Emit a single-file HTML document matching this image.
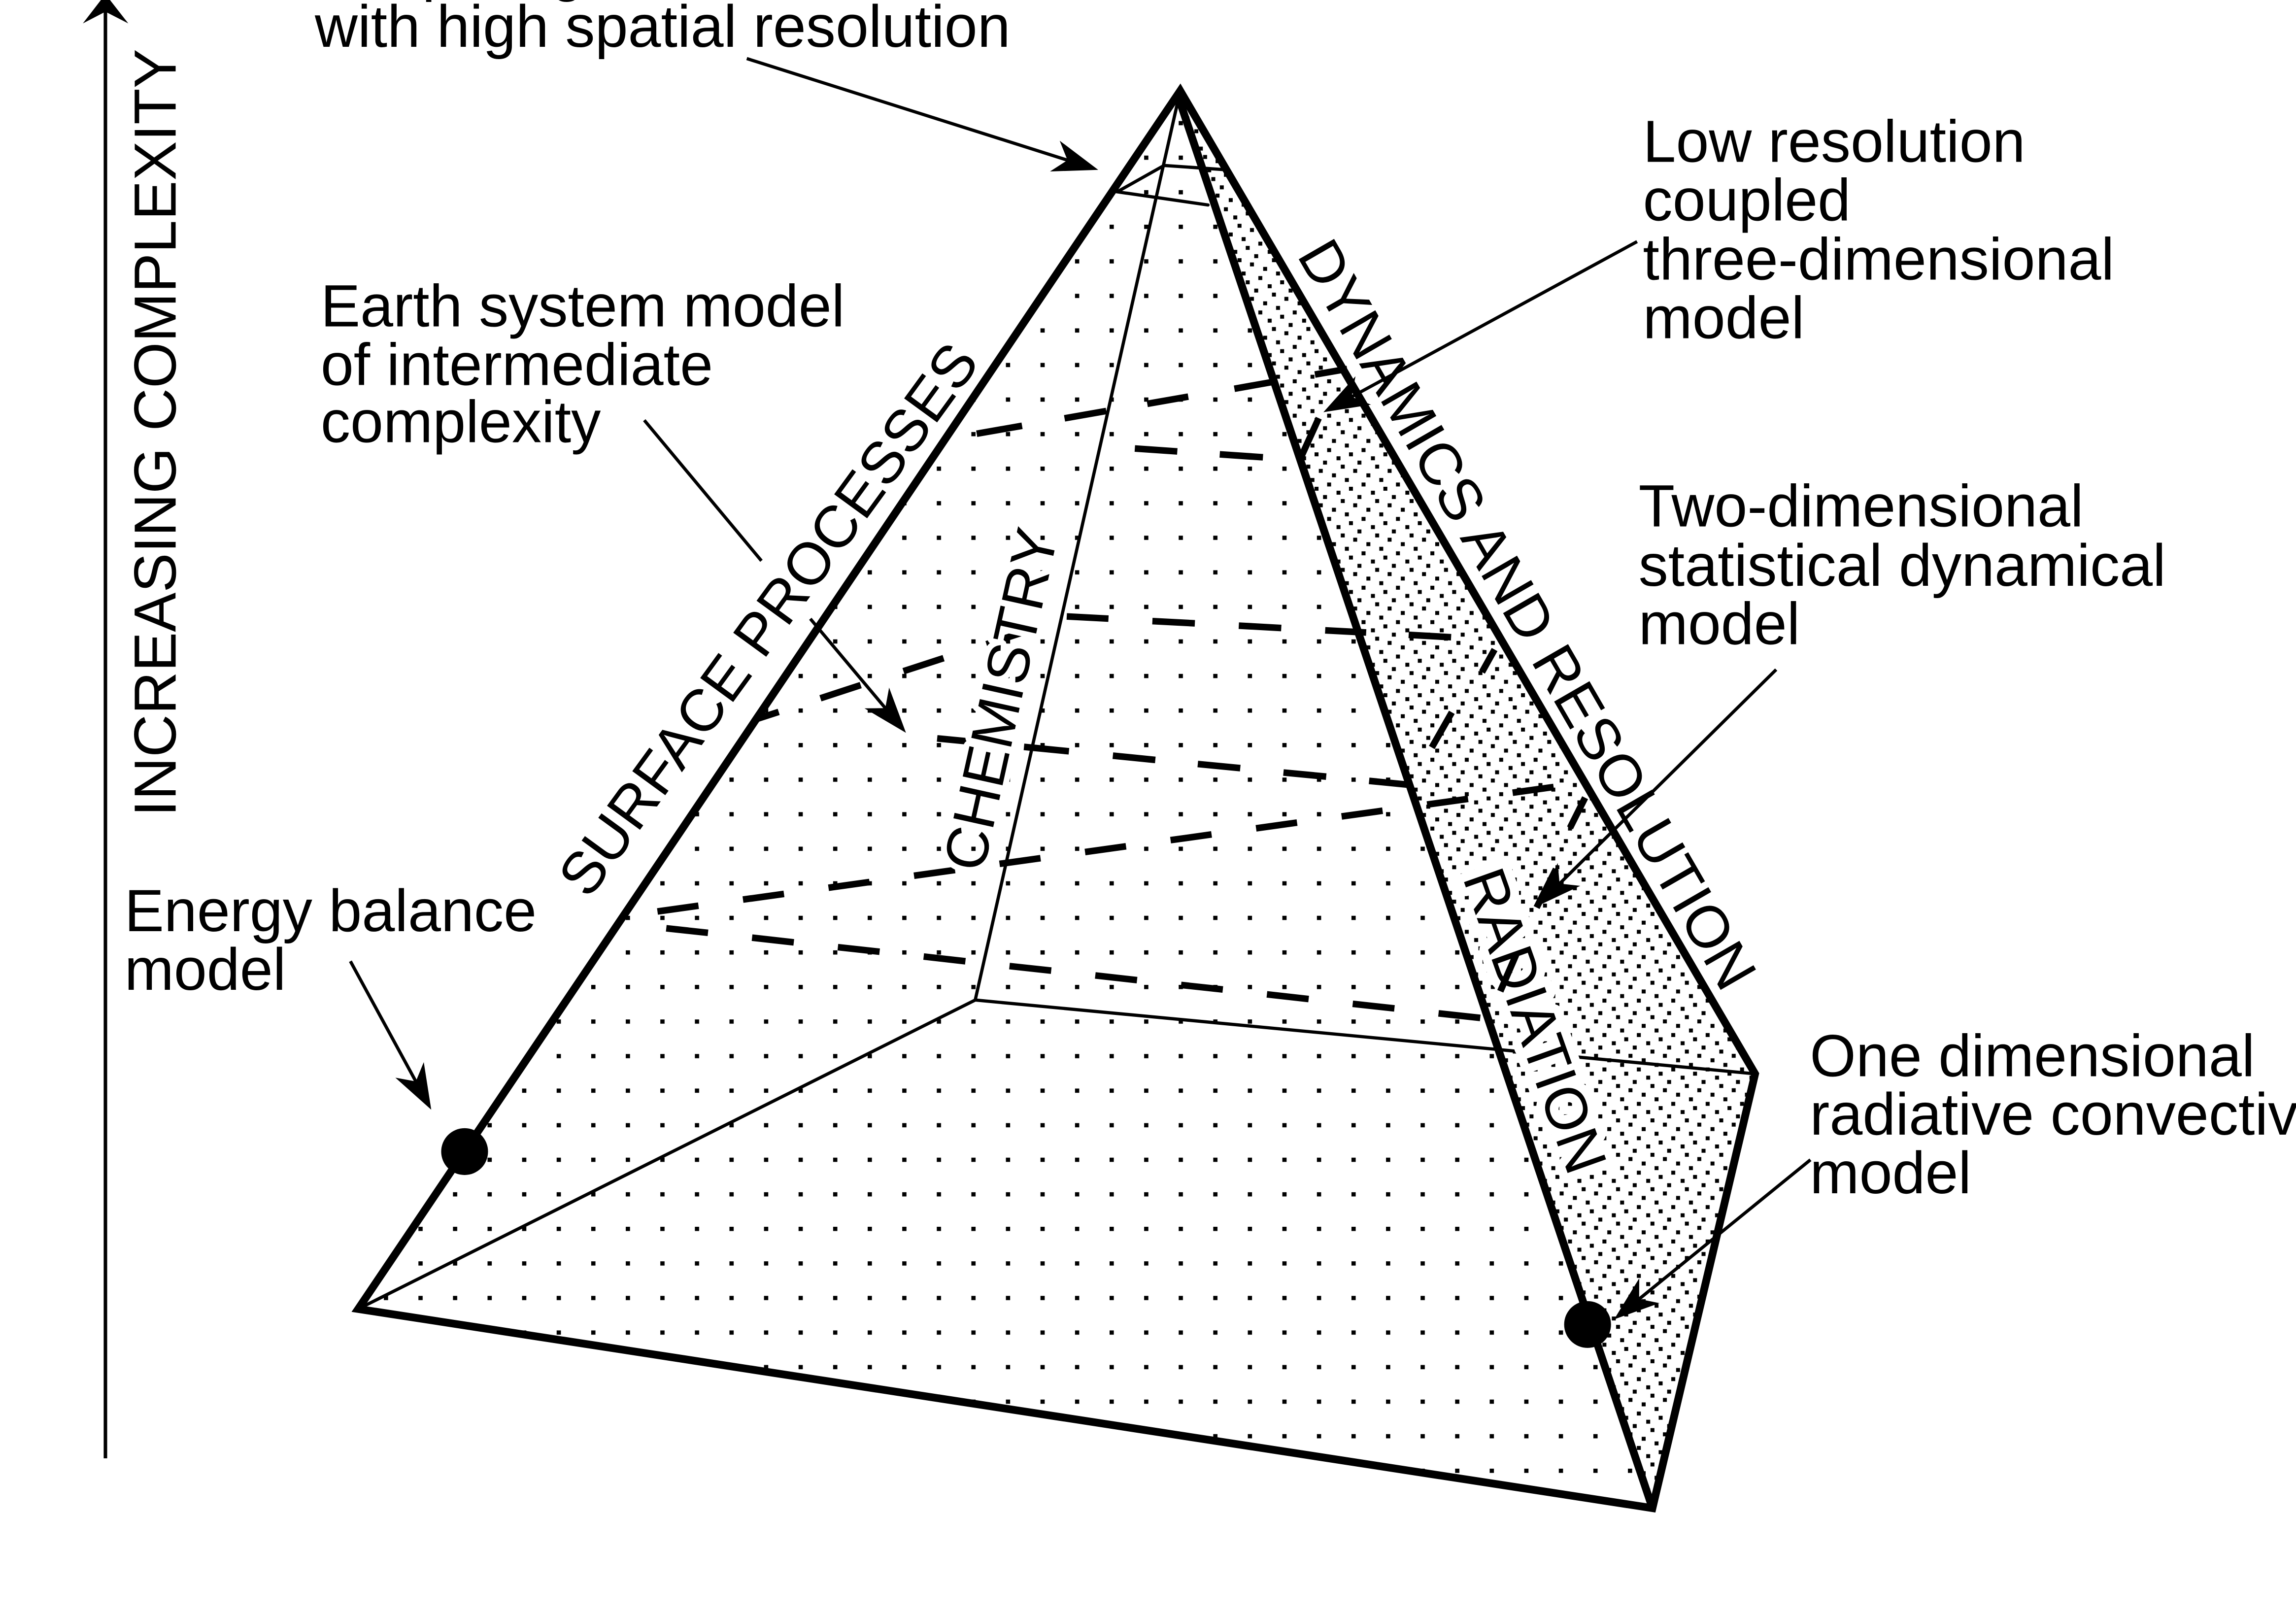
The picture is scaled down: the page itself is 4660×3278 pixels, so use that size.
<!DOCTYPE html>
<html>
<head>
<meta charset="utf-8">
<style>
html,body{margin:0;padding:0;background:#fff;}
svg{display:block;}
text{font-family:"Liberation Sans",Arial,Helvetica,sans-serif;font-size:40.5px;fill:#000;}
</style>
</head>
<body>
<svg xmlns="http://www.w3.org/2000/svg" width="4660" height="3278" viewBox="0 0 1568 1103" preserveAspectRatio="none">
<defs>
<pattern id="sp" patternUnits="userSpaceOnUse" x="2.55" y="11.85" width="23.6" height="23.6">
<rect x="0" y="0" width="2.9" height="2.9" fill="#000"/>
</pattern>
<pattern id="dn" patternUnits="userSpaceOnUse" x="4.75" y="3.45" width="23.5" height="23.5">
<rect x="0" y="0" width="2.7" height="2.7" fill="#000"/>
<rect x="15.0" y="2.7" width="2.7" height="2.7" fill="#000"/>
<rect x="5.8" y="5.65" width="2.7" height="2.7" fill="#000"/>
<rect x="17.9" y="8.4" width="2.7" height="2.7" fill="#000"/>
<rect x="2.9" y="11.3" width="2.7" height="2.7" fill="#000"/>
<rect x="11.9" y="14.35" width="2.7" height="2.7" fill="#000"/>
<rect x="20.7" y="17.5" width="2.7" height="2.7" fill="#000"/>
<rect x="8.6" y="20.6" width="2.7" height="2.7" fill="#000"/>
</pattern>
</defs>
<rect x="0" y="0" width="1568" height="1103" fill="#fff"/>

<!-- faces -->
<polygon points="805,62 244.6,894 1128.5,1030" fill="url(#sp)"/>
<polygon points="805,62 1128.5,1030 1198.6,733.4" fill="url(#dn)"/>

<!-- thin hidden edges -->
<g stroke="#000" stroke-width="2.2" fill="none" stroke-linecap="round">
<line x1="806" y1="62" x2="666" y2="683"/>
<line x1="244.6" y1="894" x2="666" y2="683"/>
<line x1="666" y1="683" x2="1198.6" y2="733.4"/>
<polyline points="825,140 763,131 795,113 838,116"/>
</g>

<!-- dashed cross-sections -->
<g stroke="#000" stroke-width="4.5" fill="none">
<!-- level 1 row 1 -->
<line x1="667" y1="296.2" x2="698" y2="290.8"/>
<line x1="727" y1="285.7" x2="755.5" y2="280.7"/>
<line x1="783.5" y1="275.8" x2="811.5" y2="270.9"/>
<line x1="843" y1="265.5" x2="869.5" y2="260.8"/>
<line x1="898" y1="255.8" x2="920" y2="252"/>
<!-- level 1 row 2 -->
<line x1="775" y1="306.3" x2="804" y2="308.3"/>
<line x1="833" y1="310.3" x2="862.5" y2="312.3"/>
<line x1="888.6" y1="312" x2="900.6" y2="285.6"/>
<!-- level 2 left-back -->
<line x1="517" y1="491" x2="531.8" y2="486.2"/>
<line x1="560.3" y1="476.9" x2="587.8" y2="467.9"/>
<line x1="617" y1="458.4" x2="644.4" y2="449.5"/>
<line x1="673.7" y1="440" x2="701" y2="431.1"/>
<!-- level 2 row 3 -->
<line x1="728.5" y1="421" x2="757" y2="422.5"/>
<line x1="787" y1="424.2" x2="816" y2="425.7"/>
<line x1="846" y1="427.3" x2="875" y2="428.9"/>
<line x1="905" y1="430.5" x2="933" y2="432"/>
<line x1="962" y1="433.6" x2="991" y2="435.2"/>
<!-- level 2 steep -->
<line x1="1020.7" y1="443.6" x2="1012.1" y2="459"/>
<line x1="991.5" y1="486.5" x2="977.8" y2="510.5"/>
<!-- level 2 row 4 -->
<line x1="640" y1="504.3" x2="669" y2="507.1"/>
<line x1="699.3" y1="510.1" x2="730" y2="513.1"/>
<line x1="760" y1="516.1" x2="789" y2="519"/>
<line x1="818" y1="521.8" x2="847" y2="524.6"/>
<line x1="876.5" y1="527.6" x2="905.7" y2="530.4"/>
<line x1="935" y1="533.3" x2="962.4" y2="536"/>
<!-- level 3 row 5 -->
<line x1="449" y1="622.5" x2="477" y2="618.6"/>
<line x1="507.4" y1="614.4" x2="535.4" y2="610.5"/>
<line x1="565.8" y1="606.3" x2="593.8" y2="602.4"/>
<line x1="624.2" y1="598.1" x2="652.2" y2="594.2"/>
<line x1="682.6" y1="590" x2="710.6" y2="586.1"/>
<line x1="741" y1="581.9" x2="769" y2="578"/>
<line x1="799.4" y1="573.8" x2="827.4" y2="569.9"/>
<line x1="857.8" y1="565.7" x2="885.8" y2="561.8"/>
<line x1="916.2" y1="557.6" x2="944.2" y2="553.7"/>
<line x1="974.6" y1="549.5" x2="1002.6" y2="545.6"/>
<line x1="1033" y1="541.4" x2="1061" y2="537.5"/>
<!-- level 3 row 6 -->
<line x1="455" y1="634" x2="483.5" y2="637.1"/>
<line x1="513.6" y1="640.4" x2="542.1" y2="643.6"/>
<line x1="572.2" y1="646.9" x2="600.7" y2="650"/>
<line x1="630.8" y1="653.3" x2="659.3" y2="656.5"/>
<line x1="689.4" y1="659.8" x2="717.9" y2="662.9"/>
<line x1="748" y1="666.2" x2="776.5" y2="669.4"/>
<line x1="806.6" y1="672.7" x2="835.1" y2="675.8"/>
<line x1="865.2" y1="679.1" x2="893.7" y2="682.3"/>
<line x1="923.8" y1="685.6" x2="952.3" y2="688.7"/>
<line x1="982.4" y1="692.1" x2="1010.9" y2="695.2"/>
<!-- level 3 steep -->
<line x1="1082.5" y1="544.8" x2="1072.2" y2="565.4"/>
<line x1="1062.6" y1="593.6" x2="1049.4" y2="619.8"/>
</g>

<!-- face labels with halos -->
<text transform="translate(1035.2,701.8) rotate(70.4)" text-anchor="middle" stroke="#fff" stroke-width="12" stroke-linejoin="round" paint-order="stroke">RADIATION</text>
<text transform="translate(697,480.6) rotate(-77.5)" text-anchor="middle" stroke="#fff" stroke-width="8" stroke-linejoin="round" paint-order="stroke">CHEMISTRY</text>

<!-- dash over the D of RADIATION -->
<line x1="1035.4" y1="652" x2="1024.6" y2="677" stroke="#000" stroke-width="4.5"/>

<!-- thick edges -->
<g stroke="#000" stroke-width="5.3" fill="none" stroke-linejoin="miter" stroke-miterlimit="6">
<path d="M244.6,894 L806,62 L1198.6,733.4 L1128.5,1030 Z"/>
<line x1="804" y1="64" x2="1128.5" y2="1030"/>
</g>

<!-- axis -->
<line x1="72" y1="996" x2="72" y2="6" stroke="#000" stroke-width="2.4"/>
<polygon points="72,-4 87.6,16 72,8 56.6,16" fill="#000"/>

<!-- arrows -->
<g stroke="#000" stroke-width="2.2" fill="none">
<line x1="510" y1="40" x2="729" y2="109.4"/>
<line x1="440" y1="287" x2="520" y2="383"/>
<line x1="553.4" y1="422.6" x2="604.6" y2="483.6"/>
<line x1="1118" y1="165" x2="923.1" y2="271"/>
<line x1="1213" y1="457.3" x2="1065.1" y2="603.5"/>
<line x1="1236.4" y1="792.1" x2="1119.4" y2="887.2"/>
<line x1="239.3" y1="656.5" x2="284" y2="738.6"/>
</g>
<g fill="#000">
<polygon points="750,116 717.1,117.1 729,109.4 723.7,96.1"/>
<polygon points="618.7,500.5 590.4,483.8 604.6,483.6 607.2,469.6"/>
<polygon points="903.8,281.5 925.7,257 923.1,271 936.3,276.4"/>
<polygon points="1049.5,619 1063.8,589.4 1065.1,603.5 1079.2,605"/>
<polygon points="1102.3,901.1 1119.5,873 1119.4,887.2 1133.3,890"/>
<polygon points="294.5,757.9 270,736 284,738.6 289.4,725.4"/>
<circle cx="317.3" cy="786.5" r="16"/>
<circle cx="1084.2" cy="904.6" r="16"/>
</g>

<!-- edge labels -->
<text transform="translate(535.9,431.2) rotate(-53.9)" text-anchor="middle">SURFACE PROCESSES</text>
<text transform="translate(1031,426.6) rotate(60)" text-anchor="middle">DYNAMICS AND RESOLUTION</text>
<text transform="translate(120,295.5) rotate(-90)" text-anchor="middle">INCREASING COMPLEXITY</text>

<!-- annotations -->
<text x="214" y="-7">Coupled general circulation model</text>
<text x="215" y="32">with high spatial resolution</text>

<text x="219" y="223">Earth system model</text>
<text x="219" y="263">of intermediate</text>
<text x="219" y="302">complexity</text>

<text x="1122" y="110.5">Low resolution</text>
<text x="1122" y="150.5">coupled</text>
<text x="1122" y="191">three-dimensional</text>
<text x="1122" y="231">model</text>

<text x="1119" y="359.5">Two-dimensional</text>
<text x="1119" y="400">statistical dynamical</text>
<text x="1119" y="440">model</text>

<text x="85" y="636">Energy balance</text>
<text x="85" y="676">model</text>

<text x="1236" y="735">One dimensional</text>
<text x="1236" y="775">radiative convective</text>
<text x="1236" y="815">model</text>
</svg>
</body>
</html>
